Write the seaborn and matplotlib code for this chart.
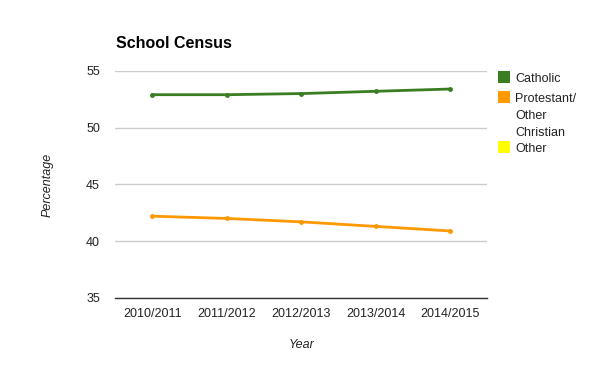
import matplotlib
matplotlib.use("Agg")
import matplotlib.pyplot as plt
from matplotlib.patches import Rectangle
import pandas as pd
import seaborn as sns

# data
years = ["2010/2011", "2011/2012", "2012/2013", "2013/2014", "2014/2015"]
catholic = [52.9, 52.9, 53.0, 53.2, 53.4]
protestant = [42.2, 42.0, 41.7, 41.3, 40.9]
series_names = ["Catholic", "Protestant/\nOther\nChristian", "Other"]
colors = ["#3a7d22", "#ff9900", "#ffff00"]

df = pd.DataFrame({
    "Year": years * 2,
    "Percentage": catholic + protestant,
    "Group": [series_names[0]] * len(years) + [series_names[1]] * len(years),
})

sns.set_style("white")
plt.rcParams["font.family"] = ["Liberation Sans", "DejaVu Sans"]

W, H = 600, 371
fig = plt.figure(figsize=(W / 100, H / 100), dpi=100)
ax = fig.add_axes([0.192, 0.197, 0.62, 0.612])

sns.lineplot(data=df, x="Year", y="Percentage", hue="Group",
             palette=colors[:2], marker="o", markersize=3.5,
             markeredgewidth=0, linewidth=2, sort=False, ax=ax, legend=False)

ax.set_xlim(-0.5, len(years) - 0.5)
ax.set_ylim(35, 55)
ax.set_yticks([35, 40, 45, 50, 55])
ax.grid(axis="y", color="#cccccc", linewidth=1)
ax.set_axisbelow(True)
for s in ["top", "right", "left"]:
    ax.spines[s].set_visible(False)
ax.spines["bottom"].set_color("#333333")
ax.spines["bottom"].set_linewidth(1)
ax.tick_params(axis="both", length=0, labelsize=9, colors="#222222", pad=11)
ax.tick_params(axis="x", pad=7)

ax.set_xlabel("Year", fontsize=9, style="italic", color="#222222", labelpad=14)
ax.set_ylabel("Percentage", fontsize=9, style="italic", color="#222222", labelpad=23)

fig.text(116 / W, 1 - 43 / H, "School Census", fontsize=11.5, fontweight="bold",
         color="#000000", va="center")

# legend on the right, patch aligned with first text line
entry_y = [77, 97, 147]  # pixel rows from top
for name, c, y in zip(series_names, colors, entry_y):
    fig.patches.append(Rectangle((498 / W, 1 - (y + 6) / H), 12 / W, 12 / H,
                                 transform=fig.transFigure, facecolor=c,
                                 edgecolor="none"))
    fig.text(515 / W, 1 - (y - 4) / H, name, fontsize=9, color="#222222",
             va="top", linespacing=1.55)

fig.savefig("out.png", dpi=100)
